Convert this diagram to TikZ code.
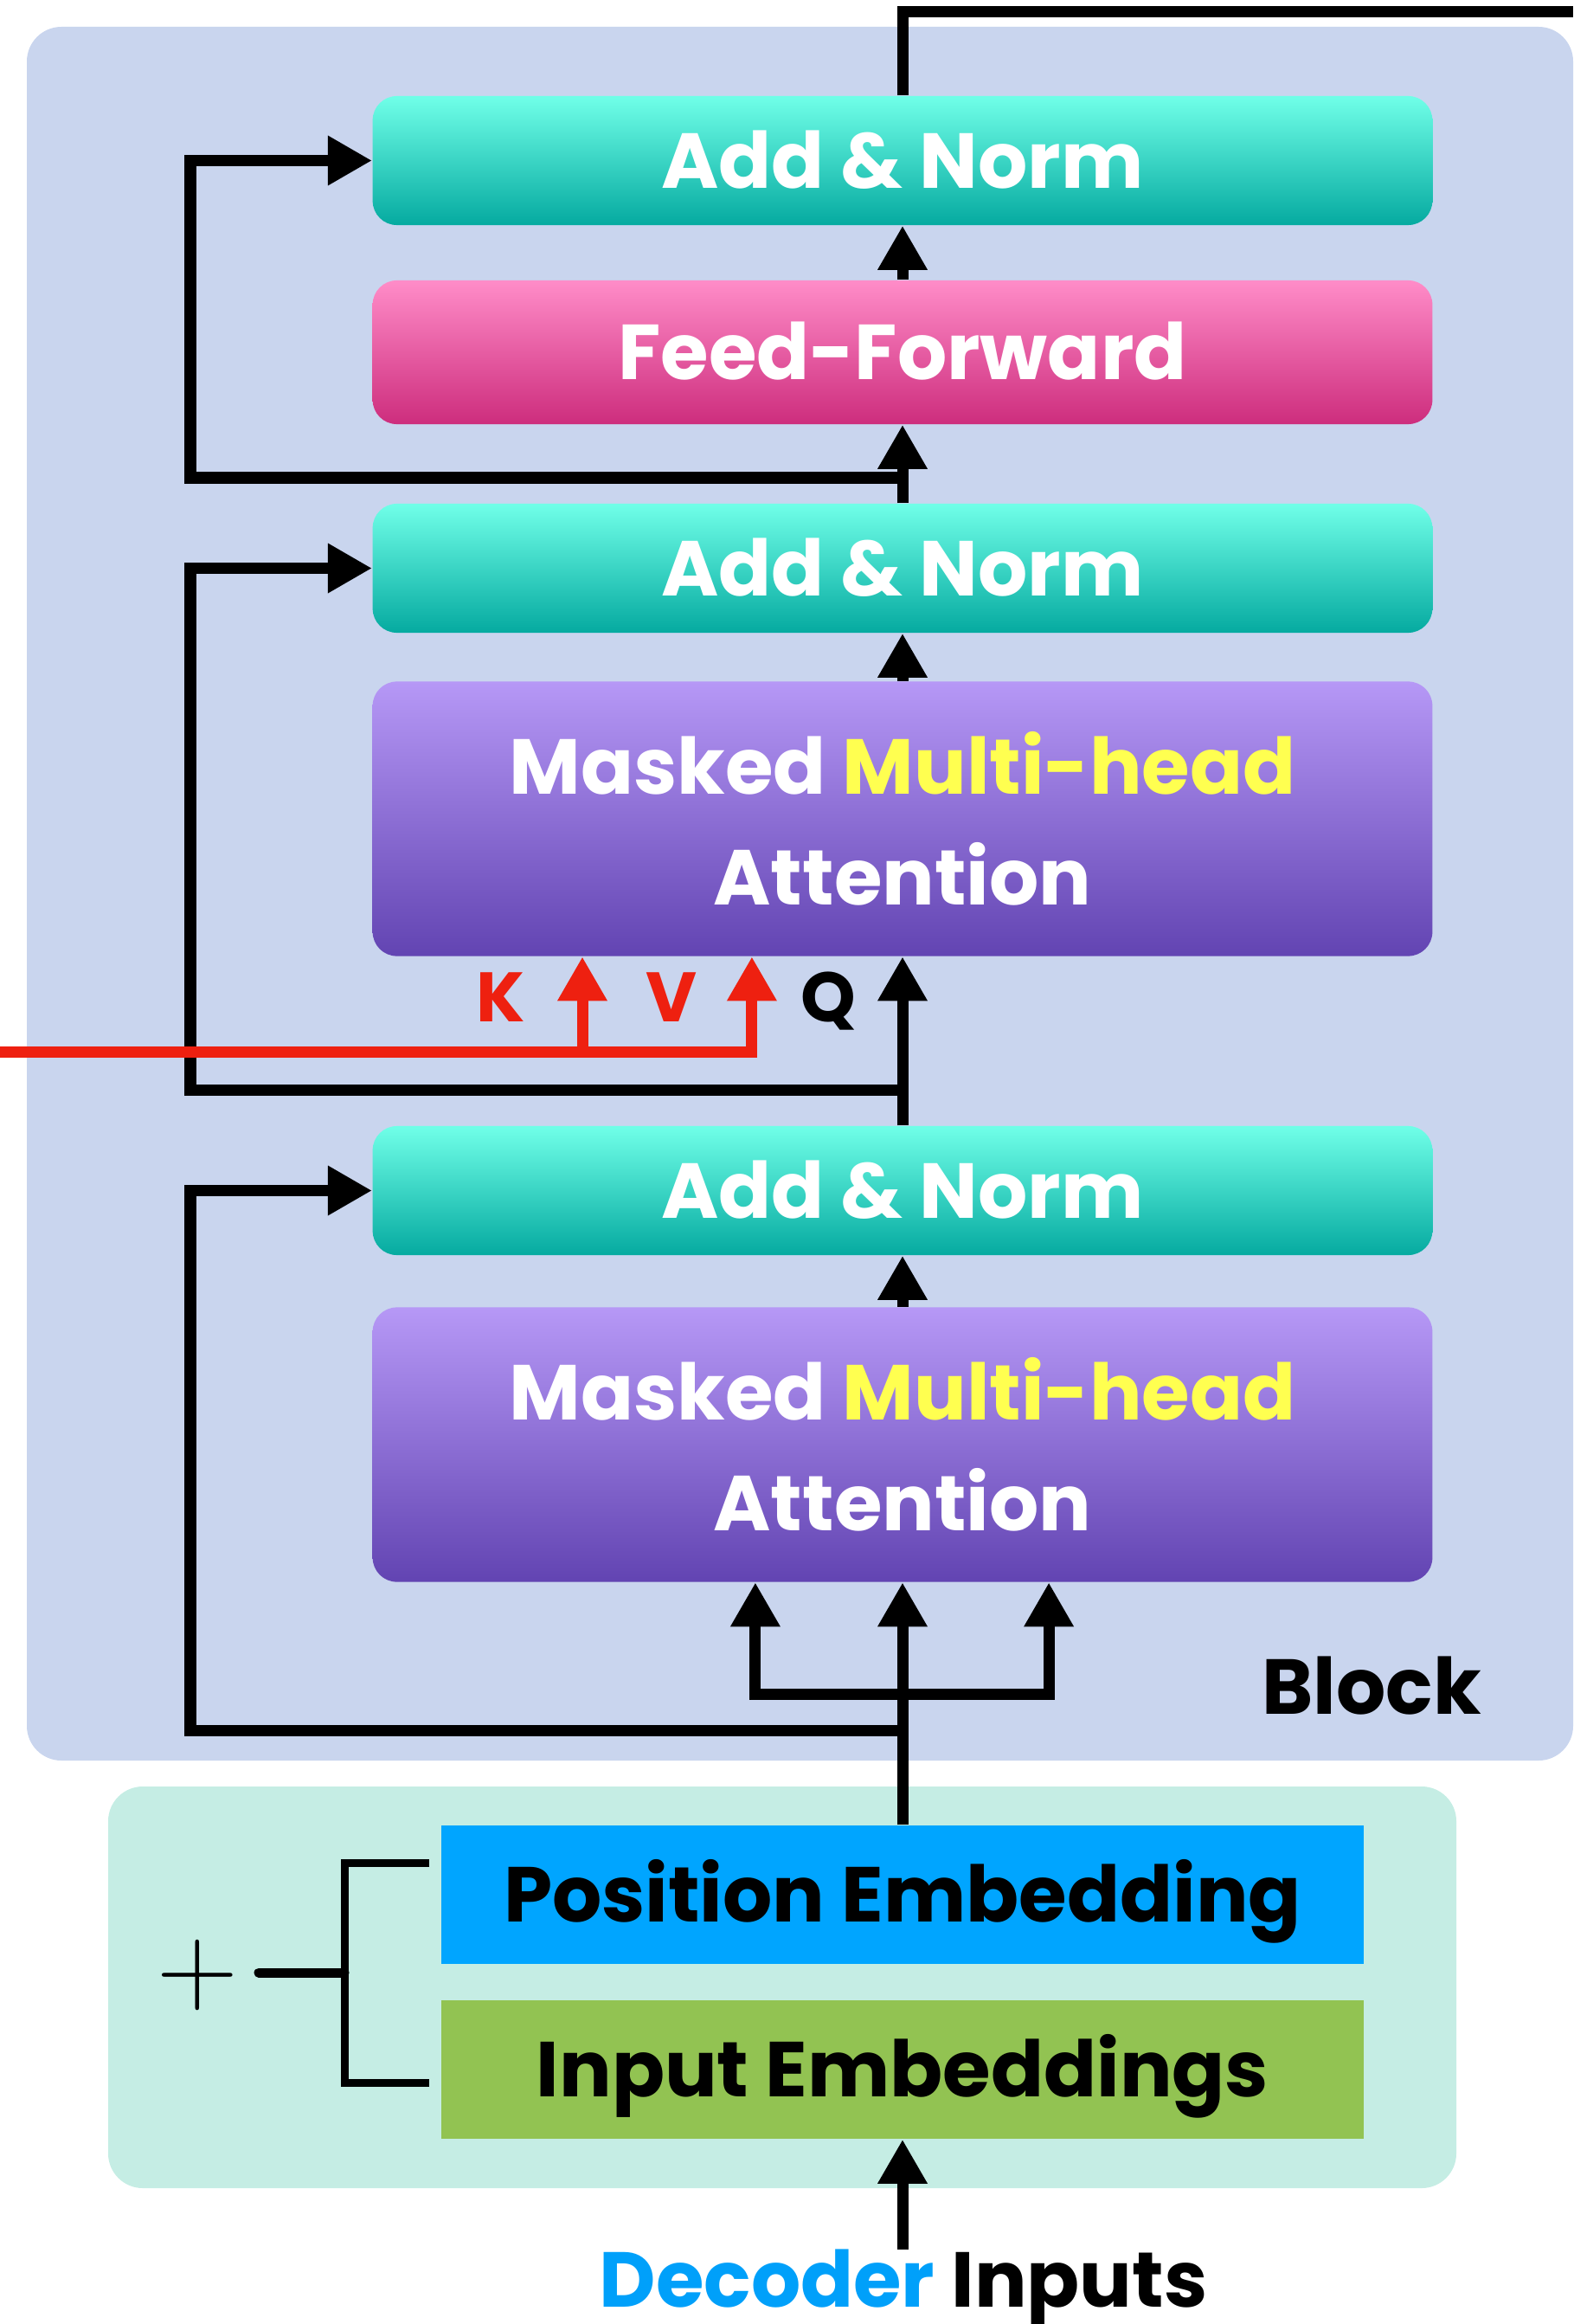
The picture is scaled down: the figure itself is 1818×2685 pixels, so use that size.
\documentclass[tikz,border=0pt]{standalone}
\usepackage{fontspec}
\setmainfont{Poppins}
\newfontfamily\signefont{Latin Modern Roman}
\usepackage{tikz}
\usetikzlibrary{arrows.meta}
\definecolor{fondbloc}{RGB}{201,213,238}
\definecolor{fondemb}{RGB}{197,237,228}
\definecolor{tealhaut}{RGB}{112,255,232}
\definecolor{tealbas}{RGB}{5,170,160}
\definecolor{rosehaut}{RGB}{255,140,200}
\definecolor{rosebas}{RGB}{205,45,125}
\definecolor{violethaut}{RGB}{182,152,246}
\definecolor{violetbas}{RGB}{98,68,178}
\definecolor{bleupos}{RGB}{0,165,255}
\definecolor{vertinp}{RGB}{146,195,82}
\definecolor{rouge}{RGB}{238,32,16}
\definecolor{jaune}{RGB}{255,255,80}
\definecolor{bleudec}{RGB}{0,160,250}

\begin{document}
\begin{tikzpicture}[x=0.01cm, y=-0.01cm]
	% STYLES
	\tikzstyle{fond} = [draw=none, rounded corners=0.4cm]
	\tikzstyle{texte} = [font=\fontsize{25.6}{36.4}\selectfont\bfseries]
	\tikzstyle{boite} = [texte, draw=none, rounded corners=0.28cm, minimum width=12.24cm, text=white, align=center, inner sep=0pt]
	\tikzstyle{addnorm} = [boite, minimum height=1.49cm, text height=18pt, text depth=0pt, top color=tealhaut, bottom color=tealbas]
	\tikzstyle{ffn} = [boite, minimum height=1.66cm, text height=18pt, text depth=0pt, top color=rosehaut, bottom color=rosebas]
	\tikzstyle{mha} = [boite, minimum height=3.17cm, top color=violethaut, bottom color=violetbas]
	\tikzstyle{emb} = [texte, draw=none, minimum width=10.66cm, minimum height=1.6cm, inner sep=0pt, text height=18pt, text depth=0pt]
	\tikzstyle{lettre} = [font=\fontsize{23}{23}\selectfont\bfseries, anchor=base]
	\tikzstyle{ligne} = [line width=0.13cm, draw=black]
	\tikzstyle{fleche} = [ligne, -{Triangle[length=0.51cm, width=0.54cm]}]
	\tikzstyle{kv} = [fleche, draw=rouge]
	\tikzstyle{accolade} = [line width=0.09cm, draw=black]

	\useasboundingbox (0, 0) rectangle (1818, 2685);

	% FONDS
	\draw[fond, fill=fondbloc] (31, 31) rectangle (1818, 2034);
	\draw[fond, fill=fondemb] (125, 2064) rectangle (1683, 2528);

	% BOITES
	\node[addnorm] (an3) at (1043, 185.5) {Add \& Norm};
	\node[ffn] (ff) at (1043, 407) {Feed-Forward};
	\node[addnorm] (an2) at (1043, 656.5) {Add \& Norm};
	\node[mha] (att2) at (1043, 946) {Masked \textcolor{jaune}{Multi-head}\\Attention};
	\node[addnorm] (an1) at (1043, 1375.5) {Add \& Norm};
	\node[mha] (att1) at (1043, 1669) {Masked \textcolor{jaune}{Multi-head}\\Attention};
	\node[emb, fill=bleupos] (pos) at (1043, 2189) {Position Embedding};
	\node[emb, fill=vertinp] (inp) at (1043, 2391) {Input Embeddings};

	% TEXTES
	\node[texte, anchor=base] (bloc) at (1585, 1980) {Block};
	\node[texte, anchor=base] (dec) at (1044, 2665) {\textcolor{bleudec}{Decoder} Inputs};
	\node[lettre, text=rouge] (lk) at (579, 1180) {K};
	\node[lettre, text=rouge] (lv) at (776, 1180) {V};
	\node[lettre] (lq) at (957, 1180) {Q};
	\node[font=\signefont\fontsize{37}{37}\selectfont, inner sep=0pt] (plus) at (228, 2282) {+};

	% SORTIE
	\coordinate (sortie) at (1818, 14);
	\draw[ligne] (an3.north) |- (sortie);

	% FEED-FORWARD
	\draw[fleche] (ff.north) -- (an3.south);
	\coordinate (r3) at (220, 552);
	\draw[fleche] (an2.north) -- (ff.south);
	\draw[fleche] (an2.north |- r3) -- (r3) |- (an3.west);

	% ATTENTION 2
	\draw[fleche] (att2.north) -- (an2.south);
	\coordinate (r2) at (220, 1259);
	\draw[fleche] (an1.north) -- (att2.south);
	\draw[fleche] (an1.north |- r2) -- (r2) |- (an2.west);

	% K V
	\coordinate (memoire) at (0, 1215);
	\coordinate (k) at (673, 1215);
	\draw[kv] (memoire) -| ([xshift=-1.74cm]att2.south);
	\draw[kv] (k) -- (k |- att2.south);

	% ATTENTION 1
	\draw[fleche] (att1.north) -- (an1.south);
	\coordinate (fourche) at (1043, 1957);
	\draw[ligne] (pos.north) -- (fourche);
	\draw[fleche] (fourche) -- (att1.south);
	\draw[fleche] (fourche) -| ([xshift=-1.7cm]att1.south);
	\draw[fleche] (fourche) -| ([xshift=1.69cm]att1.south);
	\coordinate (r1) at (220, 1999);
	\draw[fleche] (pos.north |- r1) -- (r1) |- (an1.west);

	% EMBEDDINGS
	\coordinate (entree) at (1043, 2599);
	\draw[fleche] (entree) -- (inp.south);
	\coordinate (ah) at (496, 2152);
	\coordinate (ab) at (496, 2406);
	\coordinate (am) at (299, 2279);
	\draw[accolade] (ah) -- (398, 2152) -- (398, 2406) -- (ab);
	\draw[accolade, line width=0.11cm, line cap=round] (398, 2279) -- (am);
\end{tikzpicture}
\end{document}
